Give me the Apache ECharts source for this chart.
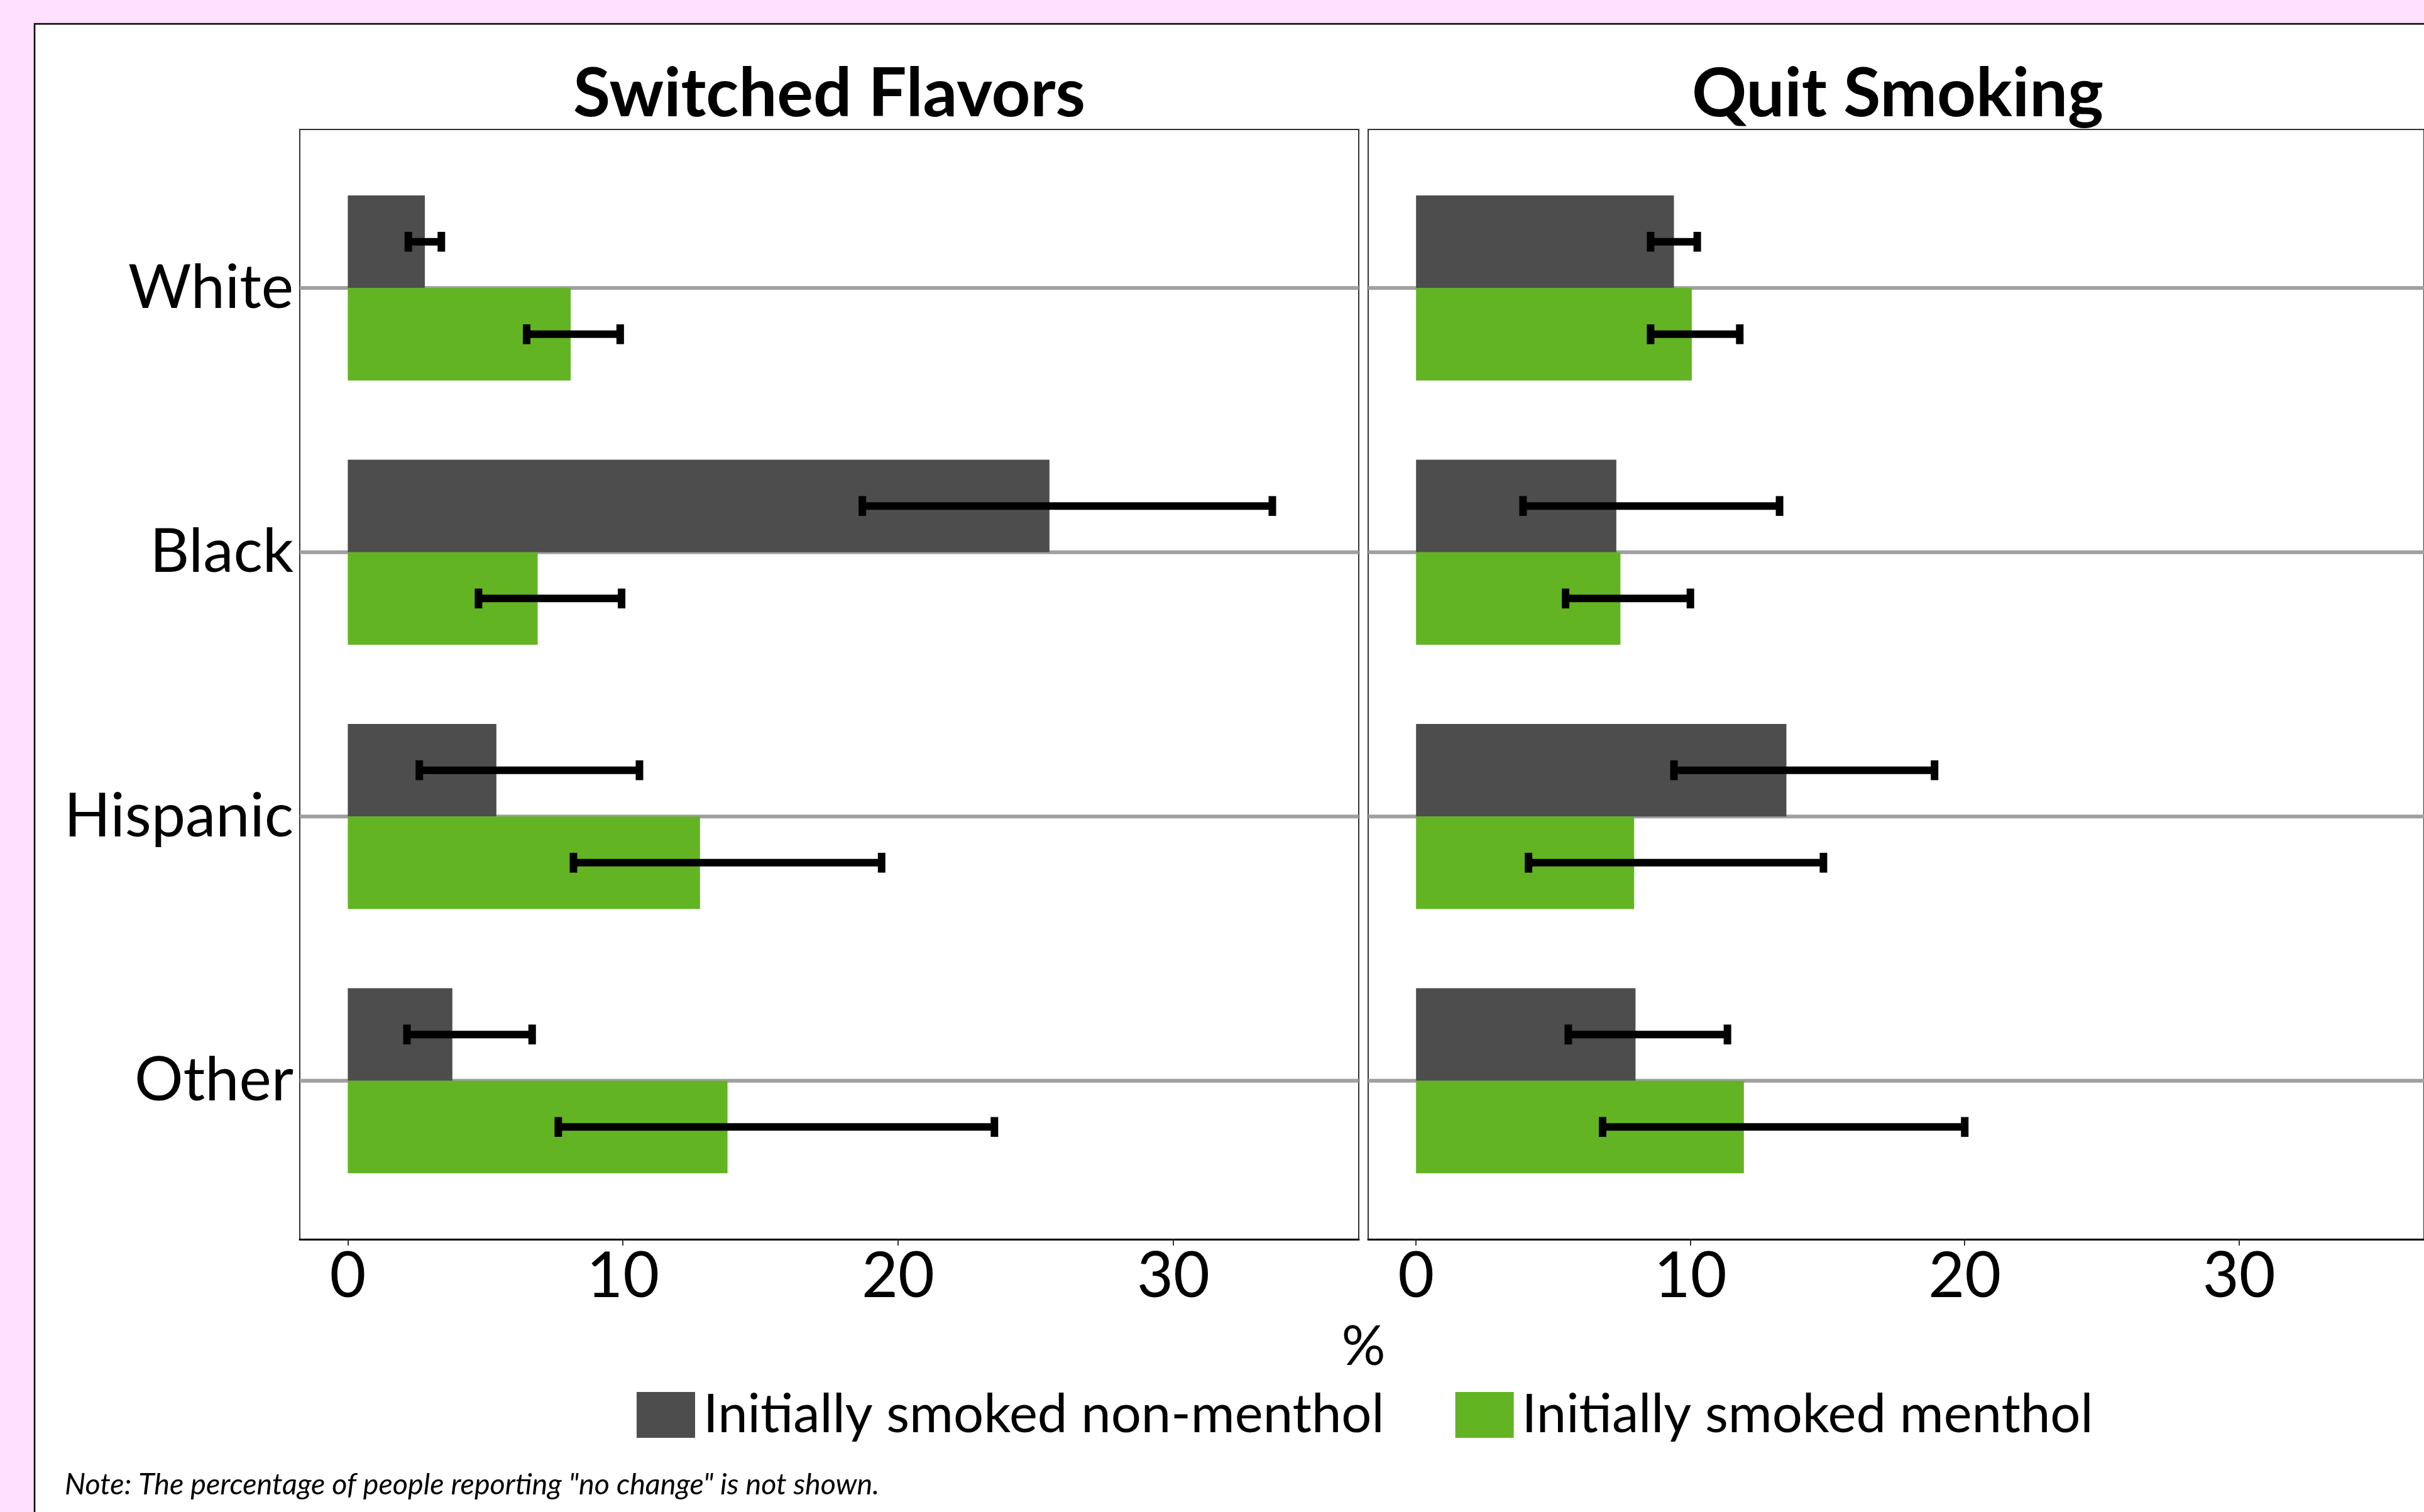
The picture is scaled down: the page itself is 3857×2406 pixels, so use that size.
<!DOCTYPE html>
<html>
<head>
<meta charset="utf-8">
<title>Switched Flavors / Quit Smoking</title>
<script src="https://cdn.jsdelivr.net/npm/echarts@6/dist/echarts.min.js"></script>
<style>
  html, body { margin: 0; padding: 0; overflow: hidden; background: #FFE0FF; }
  #chart { position: absolute; left: 0; top: 0; width: 3857px; height: 2406px; }
</style>
</head>
<body>
<div id="chart"></div>
<script>
// Race/ethnicity groups shown on the vertical axis
const categories = ['White', 'Black', 'Hispanic', 'Other'];

// Panel titles and legend names
const panelTitles = ['Switched Flavors', 'Quit Smoking'];
const groupNames = ['Initially smoked non-menthol', 'Initially smoked menthol'];

// Percentages and 95% CI limits — Switched Flavors
const switchedNonMenthol     = [2.8, 25.5, 5.4, 3.8];
const switchedNonMentholLow  = [2.2, 18.7, 2.6, 2.15];
const switchedNonMentholHigh = [3.4, 33.6, 10.6, 6.7];
const switchedMenthol        = [8.1, 6.9, 12.8, 13.8];
const switchedMentholLow     = [6.5, 4.75, 8.2, 7.65];
const switchedMentholHigh    = [9.9, 9.95, 19.4, 23.5];

// Percentages and 95% CI limits — Quit Smoking
const quitNonMenthol     = [9.4, 7.3, 13.5, 8.0];
const quitNonMentholLow  = [8.55, 3.9, 9.4, 5.55];
const quitNonMentholHigh = [10.25, 13.25, 18.9, 11.35];
const quitMenthol        = [10.05, 7.45, 7.95, 11.95];
const quitMentholLow     = [8.55, 5.45, 4.1, 6.8];
const quitMentholHigh    = [11.8, 10.0, 14.85, 20.0];

// Axis tick labels
const xTicks = [0, 10, 20, 30];

const COLORS = ['#4D4D4D', '#63B422'];
const FONT = 'Lato';
const BAR_H = 0.35;     // bar thickness in category units
const CAP_H = 0.075;    // error-bar cap height in category units

const catPos = categories.map((c, i) => i + 1);

function barSeries(name, values, idx, side, color) {
  return {
    type: 'custom',
    name: name,
    xAxisIndex: idx,
    yAxisIndex: idx,
    z: 3,
    itemStyle: { color: color },
    encode: { x: 1, y: 0 },
    data: values.map((v, i) => [catPos[i], v]),
    renderItem: function (params, api) {
      const pos = api.value(0);
      const v = api.value(1);
      const yA = side < 0 ? pos - BAR_H : pos;
      const yB = side < 0 ? pos : pos + BAR_H;
      const p0 = api.coord([0, yA]);
      const p1 = api.coord([v, yB]);
      return {
        type: 'rect',
        shape: {
          x: Math.min(p0[0], p1[0]),
          y: Math.min(p0[1], p1[1]),
          width: Math.abs(p1[0] - p0[0]),
          height: Math.abs(p1[1] - p0[1])
        },
        style: { fill: color }
      };
    }
  };
}

function errorSeries(low, high, idx, side) {
  return {
    type: 'custom',
    xAxisIndex: idx,
    yAxisIndex: idx,
    z: 4,
    silent: true,
    encode: { x: [1, 2], y: 0 },
    data: low.map((l, i) => [catPos[i], l, high[i]]),
    renderItem: function (params, api) {
      const pos = api.value(0) + side * BAR_H / 2;
      const a = api.coord([api.value(1), pos]);
      const b = api.coord([api.value(2), pos]);
      const h = api.size([0, CAP_H])[1] / 2;
      const st = { stroke: '#000', lineWidth: 12, fill: null };
      return {
        type: 'group',
        children: [
          { type: 'line', shape: { x1: a[0], y1: a[1], x2: b[0], y2: b[1] }, style: st },
          { type: 'line', shape: { x1: a[0], y1: a[1] - h, x2: a[0], y2: a[1] + h }, style: st },
          { type: 'line', shape: { x1: b[0], y1: b[1] - h, x2: b[0], y2: b[1] + h }, style: st }
        ]
      };
    }
  };
}

function gridLineSeries(idx) {
  return {
    type: 'custom',
    xAxisIndex: idx,
    yAxisIndex: idx,
    z: 1,
    silent: true,
    encode: { y: 0 },
    data: catPos.map(p => [p]),
    renderItem: function (params, api) {
      const cs = params.coordSys;
      const y = api.coord([0, api.value(0)])[1];
      return {
        type: 'line',
        shape: { x1: cs.x, y1: y, x2: cs.x + cs.width, y2: y },
        style: { stroke: '#A0A0A0', lineWidth: 6, fill: null }
      };
    }
  };
}

const PANEL_W = 1685, PANEL_H = 1766, PANEL_TOP = 206;
const panelLeft = [477, 2177];

const grids = panelLeft.map(l => ({
  left: l, top: PANEL_TOP, width: PANEL_W, height: PANEL_H,
  show: true, borderColor: '#333', borderWidth: 2, backgroundColor: '#fff',
  containLabel: false
}));

const xAxes = panelLeft.map((l, i) => ({
  type: 'value', gridIndex: i, min: -1.745, max: 36.74,
  axisLine: { show: true, onZero: false, lineStyle: { color: '#000', width: 3 } },
  axisTick: { show: true, customValues: xTicks, length: 10, lineStyle: { color: '#333', width: 2 } },
  axisLabel: { customValues: xTicks, margin: 10, fontFamily: FONT, fontSize: 100, color: '#000' },
  splitLine: { show: false }
}));

const yAxes = panelLeft.map((l, i) => ({
  type: 'value', gridIndex: i, min: 0.4, max: 4.6, inverse: true,
  axisLine: { show: false },
  axisTick: { show: false },
  axisLabel: {
    show: i === 0,
    customValues: catPos,
    formatter: v => categories[Math.round(v) - 1],
    margin: 10, fontFamily: FONT, fontSize: 97, color: '#000'
  },
  splitLine: { show: false }
}));

const series = [
  gridLineSeries(0), gridLineSeries(1),
  barSeries(groupNames[0], switchedNonMenthol, 0, -1, COLORS[0]),
  barSeries(groupNames[1], switchedMenthol, 0, 1, COLORS[1]),
  barSeries(groupNames[0], quitNonMenthol, 1, -1, COLORS[0]),
  barSeries(groupNames[1], quitMenthol, 1, 1, COLORS[1]),
  errorSeries(switchedNonMentholLow, switchedNonMentholHigh, 0, -1),
  errorSeries(switchedMentholLow, switchedMentholHigh, 0, 1),
  errorSeries(quitNonMentholLow, quitNonMentholHigh, 1, -1),
  errorSeries(quitMentholLow, quitMentholHigh, 1, 1)
];

const chart = echarts.init(document.getElementById('chart'), null, { renderer: 'canvas' });

chart.setOption({
  backgroundColor: '#FFE0FF',
  animation: false,
  graphic: [
    {
      type: 'rect', z: -10, silent: true,
      shape: { x: 55, y: 38, width: 4000, height: 3000 },
      style: { fill: '#fff', stroke: '#000', lineWidth: 2.5 }
    },
    {
      type: 'text', x: panelLeft[0] + PANEL_W / 2, y: 150, z: 10,
      style: { text: panelTitles[0], fontFamily: FONT, fontWeight: 'bold', fontSize: 108,
               fill: '#000', align: 'center', verticalAlign: 'middle' }
    },
    {
      type: 'text', x: panelLeft[1] + PANEL_W / 2, y: 150, z: 10,
      style: { text: panelTitles[1], fontFamily: FONT, fontWeight: 'bold', fontSize: 108,
               fill: '#000', align: 'center', verticalAlign: 'middle' }
    },
    {
      type: 'text', x: (panelLeft[0] + panelLeft[1] + PANEL_W) / 2, y: 2144, z: 10,
      style: { text: '%', fontFamily: FONT, fontSize: 87, fill: '#000',
               align: 'center', verticalAlign: 'middle' }
    },
    {
      type: 'text', x: 103, y: 2363, z: 10,
      style: { text: 'Note: The percentage of people reporting "no change" is not shown.',
               fontFamily: FONT, fontStyle: 'italic', fontSize: 46.7, fill: '#000',
               align: 'left', verticalAlign: 'middle' }
    }
  ],
  legend: {
    data: groupNames,
    left: 1013, top: 2209,
    padding: 0,
    icon: 'rect',
    itemWidth: 93, itemHeight: 73,
    itemGap: 113,
    selectedMode: false,
    textStyle: { fontFamily: FONT, fontSize: 85, color: '#000', padding: [0, 0, 0, 8] }
  },
  grid: grids,
  xAxis: xAxes,
  yAxis: yAxes,
  series: series
});
</script>
</body>
</html>
